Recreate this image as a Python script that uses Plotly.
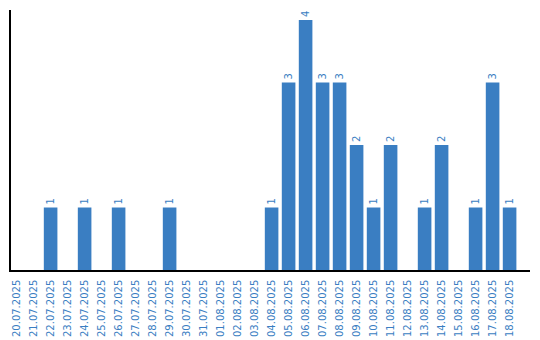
import plotly.graph_objects as go

dates = ["20.07.2025", "21.07.2025", "22.07.2025", "23.07.2025", "24.07.2025", "25.07.2025",
         "26.07.2025", "27.07.2025", "28.07.2025", "29.07.2025", "30.07.2025", "31.07.2025",
         "01.08.2025", "02.08.2025", "03.08.2025", "04.08.2025", "05.08.2025", "06.08.2025",
         "07.08.2025", "08.08.2025", "09.08.2025", "10.08.2025", "11.08.2025", "12.08.2025",
         "13.08.2025", "14.08.2025", "15.08.2025", "16.08.2025", "17.08.2025", "18.08.2025"]
counts = [0, 0, 1, 0, 1, 0, 1, 0, 0, 1, 0, 0, 0, 0, 0, 1, 3, 4, 3, 3, 2, 1, 2, 0, 1, 2, 0, 1, 3, 1]

labels = [str(c) if c > 0 else "" for c in counts]
blue = "#3a7ec2"

fig = go.Figure(go.Bar(
    x=list(range(len(dates))), y=counts, marker_color=blue, marker_line_width=0,
    text=labels, textposition="outside", textangle=-90, cliponaxis=False,
    textfont=dict(family="DejaVu Sans", size=10, color=blue),
))
fig.update_layout(
    width=540, height=340, margin=dict(l=11, r=10, t=10, b=70, autoexpand=False),
    plot_bgcolor="white", paper_bgcolor="white", bargap=0.2, showlegend=False,
    xaxis=dict(tickmode="array", tickvals=list(range(len(dates))), ticktext=dates,
               tickangle=-90, range=[-0.33, 30.2], showline=True, linecolor="black",
               linewidth=1.5, showgrid=False, zeroline=False, ticks="", automargin=False,
               ticklabelstandoff=4,
               tickfont=dict(family="DejaVu Sans", size=10, color=blue)),
    yaxis=dict(range=[0, 4.16], showline=True, linecolor="black", linewidth=1.5,
               showgrid=False, zeroline=False, showticklabels=False, ticks="",
               automargin=False),
)
fig.write_html("out.html")
